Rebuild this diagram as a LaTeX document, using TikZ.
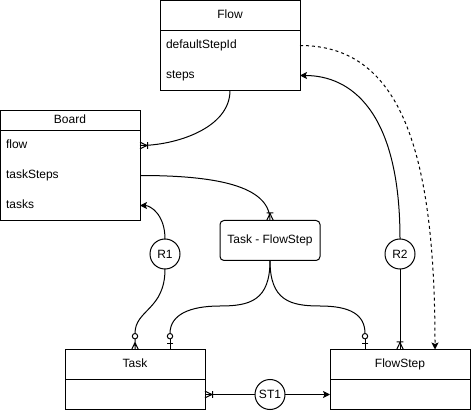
\documentclass[tikz,border=0pt]{standalone}
\usepackage{fontspec}
\setmainfont{Liberation Sans}
\usetikzlibrary{positioning, arrows.meta, fit, calc}

\newcommand{\erfont}{\fontsize{12pt}{14pt}\selectfont}

% crow's foot ends
\pgfdeclarearrow{
  name = ER one many,
  setup code = {
    \pgfarrowssettipend{0pt}
    \pgfarrowssetlineend{0pt}
    \pgfarrowssetbackend{-8pt}
    \pgfarrowssetvisualbackend{-8pt}
    \pgfarrowshullpoint{0pt}{3.5pt}
    \pgfarrowshullpoint{0pt}{-3.5pt}
    \pgfarrowshullpoint{-8pt}{3.5pt}
    \pgfarrowshullpoint{-8pt}{-3.5pt}
  },
  drawing code = {
    \pgfpathmoveto{\pgfqpoint{0pt}{3.3pt}}
    \pgfpathlineto{\pgfqpoint{-7pt}{0pt}}
    \pgfpathlineto{\pgfqpoint{0pt}{-3.3pt}}
    \pgfpathmoveto{\pgfqpoint{-7.5pt}{3.3pt}}
    \pgfpathlineto{\pgfqpoint{-7.5pt}{-3.3pt}}
    \pgfusepathqstroke
  }
}
\pgfdeclarearrow{
  name = ER zero many,
  setup code = {
    \pgfarrowssettipend{0pt}
    \pgfarrowssetlineend{-16pt}
    \pgfarrowssetbackend{-16pt}
    \pgfarrowssetvisualbackend{-16pt}
    \pgfarrowshullpoint{0pt}{3.5pt}
    \pgfarrowshullpoint{0pt}{-3.5pt}
    \pgfarrowshullpoint{-16pt}{3.5pt}
    \pgfarrowshullpoint{-16pt}{-3.5pt}
  },
  drawing code = {
    \pgfpathmoveto{\pgfqpoint{0pt}{0pt}}
    \pgfpathlineto{\pgfqpoint{-10.6pt}{0pt}}
    \pgfpathmoveto{\pgfqpoint{0pt}{3.3pt}}
    \pgfpathlineto{\pgfqpoint{-7pt}{0pt}}
    \pgfpathlineto{\pgfqpoint{0pt}{-3.3pt}}
    \pgfusepathqstroke
    \pgfpathcircle{\pgfqpoint{-13.3pt}{0pt}}{2.7pt}
    \pgfusepathqstroke
  }
}
\pgfdeclarearrow{
  name = ER zero one,
  setup code = {
    \pgfarrowssettipend{0pt}
    \pgfarrowssetlineend{-16pt}
    \pgfarrowssetbackend{-16pt}
    \pgfarrowssetvisualbackend{-16pt}
    \pgfarrowshullpoint{0pt}{3.5pt}
    \pgfarrowshullpoint{0pt}{-3.5pt}
    \pgfarrowshullpoint{-16pt}{3.5pt}
    \pgfarrowshullpoint{-16pt}{-3.5pt}
  },
  drawing code = {
    \pgfpathmoveto{\pgfqpoint{0pt}{0pt}}
    \pgfpathlineto{\pgfqpoint{-10.6pt}{0pt}}
    \pgfpathmoveto{\pgfqpoint{-6pt}{3.3pt}}
    \pgfpathlineto{\pgfqpoint{-6pt}{-3.3pt}}
    \pgfusepathqstroke
    \pgfpathcircle{\pgfqpoint{-13.3pt}{0pt}}{2.7pt}
    \pgfusepathqstroke
  }
}

\tikzset{
  enthead/.style={
    draw,
    line width=1pt,
    minimum width=140pt,
    minimum height=30pt,
    inner sep=0pt,
    outer sep=0pt,
    text height=9pt,
    text depth=3pt,
    font=\erfont
  },
  entrow/.style={
    text width=128pt,
    inner xsep=6pt,
    inner ysep=0pt,
    outer sep=0pt,
    minimum height=30pt,
    text height=9pt,
    text depth=3pt,
    align=left,
    font=\erfont
  },
  entframe/.style={draw, line width=1pt, inner sep=0pt, outer sep=0pt},
  assoc/.style={enthead, rounded corners=4pt, minimum width=100pt, minimum height=40pt},
  relc/.style={draw, circle, line width=1pt, minimum size=30pt, inner sep=0pt, outer sep=0pt, font=\erfont},
  conn/.style={line width=1pt},
  arr/.style={conn, -{Stealth[length=7pt, width=7pt, inset=1.5pt]}},
  arrdash/.style={arr, dash pattern=on 3pt off 3pt}
}

\begin{document}
\begin{tikzpicture}[x=1pt, y=-1pt]
  \useasboundingbox (0,0) rectangle (471,411);

  % Flow
  \node[enthead] (flow) at (230,15.5) {Flow};
  \node[entrow, below=0pt of flow] (flowdefault) {defaultStepId};
  \node[entrow, below=0pt of flowdefault] (flowsteps) {steps};
  \node[entframe, fit=(flowdefault)(flowsteps)] (flowbody) {};

  % Board
  \node[enthead, minimum height=20pt] (board) at (70,120.5) {Board};
  \node[entrow, below=0pt of board] (boardflow) {flow};
  \node[entrow, below=0pt of boardflow] (boardtasksteps) {taskSteps};
  \node[entrow, below=0pt of boardtasksteps] (boardtasks) {tasks};
  \node[entframe, fit=(boardflow)(boardtasks)] (boardbody) {};

  % Task and FlowStep
  \node[enthead] (task) at (135,364.5) {Task};
  \node[entframe, minimum width=140pt, minimum height=30pt, below=0pt of task] (taskbody) {};
  \node[enthead] (flowstep) at (400,364.5) {FlowStep};
  \node[entframe, minimum width=140pt, minimum height=30pt, below=0pt of flowstep] (flowstepbody) {};

  \node[assoc] (taskflow) at (270,240.5) {Task - FlowStep};

  \node[relc] (r1) at (165,254) {R1};
  \node[relc] (r2) at (400,254) {R2};
  \node[relc] (st1) at (270,394.5) {ST1};

  \coordinate (taskin) at ([xshift=35pt]task.north);
  \coordinate (fsin) at ([xshift=-35pt]flowstep.north);
  \coordinate (fsdefault) at ([xshift=35pt]flowstep.north);
  \coordinate (tfl) at (220,306);
  \coordinate (tfr) at (320,306);

  \draw[conn, -{ER one many}] (flowbody.south) .. controls ($(flowbody.south)+(0,38)$) and ($(boardflow.east)+(35,0)$) .. (boardflow.east);
  \draw[conn, -{ER one many}] (boardtasksteps.east) .. controls ($(boardtasksteps.east)+(75,0)$) and ($(taskflow.north)+(0,-35)$) .. (taskflow.north);

  \draw[conn, {ER zero many}-] (task.north) .. controls ($(task.north)+(0,-40)$) and ($(r1.south)+(0,41)$) .. (r1.south);
  \draw[arr] (r1.north) .. controls ($(r1.north)+(0,-25)$) and ($(boardtasks.east)+(10,0)$) .. (boardtasks.east);

  \draw[conn, -{ER zero one}] (taskflow.south) .. controls ($(taskflow.south)+(0,40)$) and ($(tfl)+(30,0)$) .. (tfl)
    .. controls ($(tfl)+(-30,0)$) and ($(taskin)+(0,-35)$) .. (taskin);
  \draw[conn, -{ER zero one}] (taskflow.south) .. controls ($(taskflow.south)+(0,40)$) and ($(tfr)+(-30,0)$) .. (tfr)
    .. controls ($(tfr)+(30,0)$) and ($(fsin)+(0,-35)$) .. (fsin);

  \draw[conn, {ER one many}-] (flowstep.north) -- (r2.south);
  \draw[arr] (r2.north) .. controls ($(r2.north)+(0,-129)$) and ($(flowsteps.east)+(50,0)$) .. (flowsteps.east);

  \draw[arrdash] (flowdefault.east) .. controls ($(flowdefault.east)+(100,0)$) and ($(fsdefault)+(0,-200)$) .. (fsdefault);

  \draw[conn, {ER one many}-] (taskbody.east) -- (st1);
  \draw[arr] (st1) -- (flowstepbody.west);

\end{tikzpicture}
\end{document}
